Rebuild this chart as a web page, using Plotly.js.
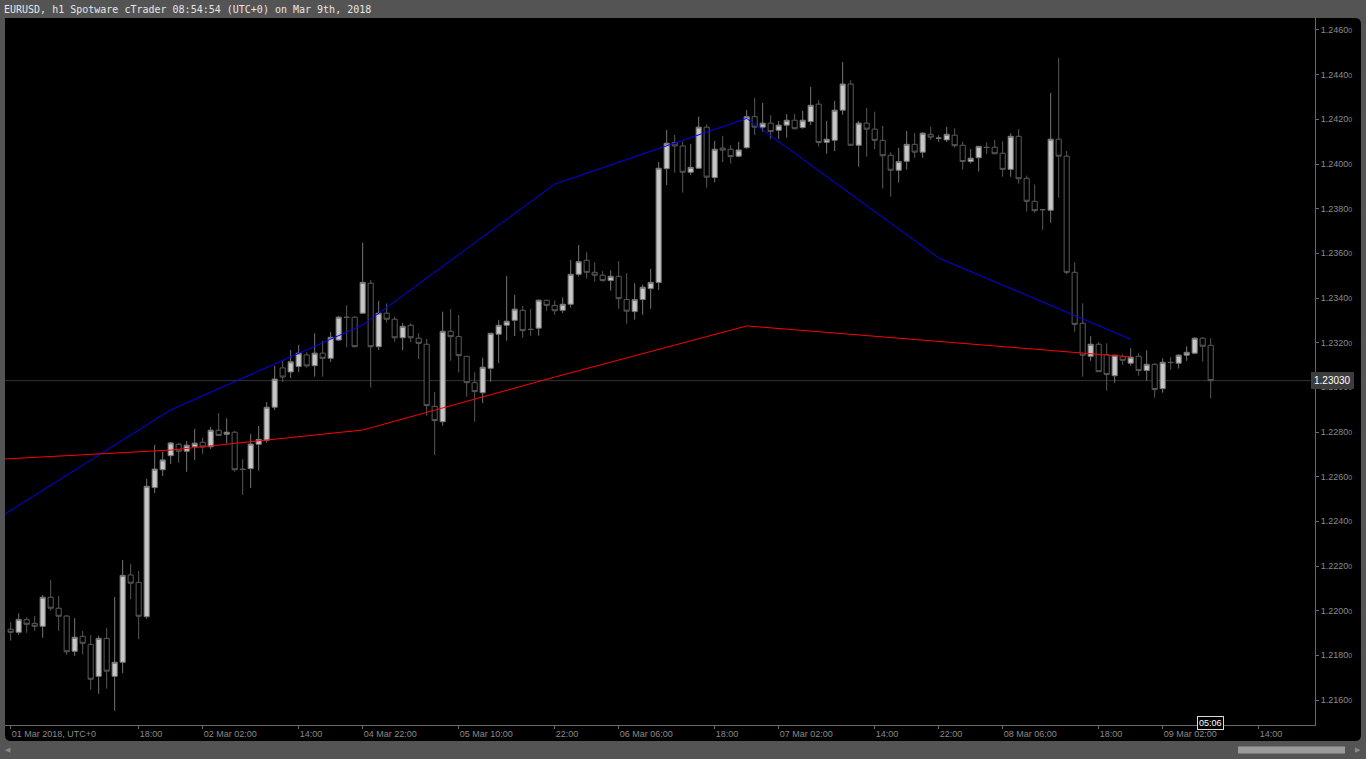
<!DOCTYPE html>
<html>
<head>
<meta charset="utf-8">
<script src="https://cdn.plot.ly/plotly-3.0.1.min.js"></script>
<style>html,body{margin:0;padding:0;background:#545454;}#chart{width:1366px;height:759px;}</style>
</head>
<body>
<div id="chart"></div>
<script>
// EURUSD h1 candles, 01 Mar 2018 02:00 .. 09 Mar 2018 08:00 (UTC+0), weekend removed
const open = [1.21917,1.21903,1.21960,1.21943,1.21930,1.22060,1.22011,1.21976,1.21818,1.21885,
1.21849,1.21706,1.21876,1.21706,1.21769,1.22160,1.22127,1.21973,1.22551,1.22631,
1.22694,1.22745,1.22714,1.22734,1.22754,1.22734,1.22808,1.22790,1.22799,1.22634,
1.22636,1.22745,1.22763,1.22911,1.23087,1.23069,1.23093,1.23145,1.23097,1.23153,
1.23130,1.23212,1.23314,1.23314,1.23332,1.23466,1.23182,1.23332,1.23305,1.23222,
1.23278,1.23220,1.23193,1.22915,1.22846,1.23251,1.23227,1.23139,1.23021,1.22976,
1.23085,1.23238,1.23278,1.23300,1.23345,1.23260,1.23265,1.23390,1.23367,1.23345,
1.23372,1.23506,1.23569,1.23515,1.23502,1.23478,1.23497,1.23393,1.23339,1.23393,
1.23442,1.23469,1.23979,1.24096,1.24081,1.23963,1.23981,1.24165,1.23939,1.24071,
1.24066,1.24035,1.24073,1.24212,1.24165,1.24183,1.24151,1.24174,1.24196,1.24163,
1.24190,1.24268,1.24097,1.24106,1.24241,1.24358,1.24084,1.24183,1.24156,1.24106,
1.24039,1.23972,1.24012,1.24088,1.24053,1.24133,1.24115,1.24108,1.24129,1.24084,
1.24011,1.24028,1.24075,1.24075,1.24048,1.23976,1.24124,1.23936,1.23833,1.23796,
1.23793,1.24111,1.24035,1.23515,1.23287,1.23139,1.23193,1.23146,1.23052,1.23137,
1.23108,1.23139,1.23075,1.23103,1.22994,1.23112,1.23108,1.23144,1.23153,1.23220,
1.23188];
const high = [1.21949,1.21988,1.21970,1.21976,1.22070,1.22137,1.22066,1.21981,1.21966,1.21909,
1.21890,1.21888,1.21922,1.22061,1.22227,1.22209,1.22178,1.22590,1.22742,1.22711,
1.22755,1.22751,1.22760,1.22814,1.22775,1.22823,1.22885,1.22861,1.22805,1.22678,
1.22791,1.22827,1.22934,1.23096,1.23123,1.23167,1.23190,1.23157,1.23242,1.23208,
1.23248,1.23320,1.23367,1.23318,1.23648,1.23481,1.23387,1.23376,1.23316,1.23288,
1.23287,1.23242,1.23217,1.22979,1.23339,1.23351,1.23324,1.23140,1.23067,1.23133,
1.23243,1.23302,1.23499,1.23414,1.23364,1.23351,1.23394,1.23391,1.23388,1.23403,
1.23570,1.23637,1.23605,1.23560,1.23520,1.23524,1.23565,1.23511,1.23466,1.23460,
1.23530,1.24009,1.24152,1.24130,1.24100,1.24090,1.24212,1.24178,1.24103,1.24126,
1.24084,1.24099,1.24241,1.24296,1.24273,1.24218,1.24193,1.24223,1.24224,1.24238,
1.24345,1.24286,1.24193,1.24282,1.24456,1.24375,1.24193,1.24251,1.24234,1.24170,
1.24053,1.24072,1.24148,1.24138,1.24142,1.24166,1.24129,1.24166,1.24160,1.24100,
1.24067,1.24081,1.24097,1.24108,1.24102,1.24138,1.24156,1.23948,1.23908,1.23799,
1.24318,1.24475,1.24058,1.23560,1.23376,1.23229,1.23202,1.23197,1.23145,1.23148,
1.23175,1.23153,1.23166,1.23108,1.23130,1.23135,1.23148,1.23184,1.23224,1.23224,
1.23220];
const low = [1.21866,1.21892,1.21901,1.21910,1.21879,1.22000,1.21910,1.21803,1.21798,1.21805,
1.21646,1.21628,1.21651,1.21552,1.21720,1.22051,1.21872,1.21964,1.22527,1.22603,
1.22657,1.22663,1.22622,1.22675,1.22702,1.22724,1.22782,1.22748,1.22622,1.22519,
1.22549,1.22627,1.22752,1.22899,1.23024,1.23042,1.23069,1.23088,1.23048,1.23048,
1.23114,1.23208,1.23179,1.23179,1.23329,1.23000,1.23167,1.23290,1.23204,1.23167,
1.23202,1.23127,1.22873,1.22697,1.22828,1.23119,1.23067,1.22958,1.22846,1.22930,
1.23025,1.23108,1.23209,1.23230,1.23222,1.23231,1.23231,1.23343,1.23325,1.23333,
1.23357,1.23496,1.23487,1.23473,1.23473,1.23433,1.23352,1.23285,1.23303,1.23325,
1.23352,1.23436,1.23906,1.23961,1.23872,1.23951,1.23978,1.23894,1.23918,1.24009,
1.24003,1.24030,1.24069,1.24130,1.24145,1.24112,1.24112,1.24118,1.24154,1.24158,
1.24174,1.24078,1.24046,1.24058,1.24220,1.24081,1.23988,1.24033,1.24066,1.23890,
1.23854,1.23917,1.23975,1.24028,1.24028,1.24108,1.24099,1.24099,1.24073,1.23975,
1.24003,1.23966,1.24044,1.24044,1.23943,1.23943,1.23912,1.23787,1.23782,1.23705,
1.23737,1.23849,1.23506,1.23249,1.23048,1.23119,1.23069,1.22985,1.23021,1.23101,
1.23097,1.23052,1.23030,1.22954,1.22976,1.23079,1.23084,1.23119,1.23148,1.23115,
1.22951];
const close = [1.21903,1.21961,1.21939,1.21930,1.22060,1.22011,1.21975,1.21816,1.21881,1.21854,
1.21693,1.21876,1.21729,1.21769,1.22158,1.22123,1.21975,1.22557,1.22634,1.22675,
1.22751,1.22714,1.22741,1.22750,1.22733,1.22808,1.22785,1.22799,1.22631,1.22632,
1.22746,1.22767,1.22911,1.23037,1.23046,1.23114,1.23153,1.23096,1.23153,1.23130,
1.23224,1.23314,1.23313,1.23182,1.23470,1.23182,1.23332,1.23305,1.23222,1.23273,
1.23222,1.23197,1.22918,1.22851,1.23251,1.23227,1.23142,1.23021,1.22981,1.23090,
1.23242,1.23278,1.23296,1.23350,1.23254,1.23259,1.23390,1.23367,1.23343,1.23372,
1.23506,1.23563,1.23515,1.23502,1.23478,1.23497,1.23397,1.23341,1.23393,1.23448,
1.23470,1.23981,1.24093,1.24081,1.23963,1.23985,1.24165,1.23941,1.24066,1.24062,
1.24033,1.24063,1.24212,1.24165,1.24183,1.24145,1.24174,1.24196,1.24158,1.24196,
1.24263,1.24096,1.24111,1.24241,1.24358,1.24084,1.24183,1.24156,1.24106,1.24037,
1.23972,1.24011,1.24088,1.24053,1.24138,1.24120,1.24116,1.24133,1.24082,1.24011,
1.24026,1.24079,1.24074,1.24046,1.23976,1.24124,1.23934,1.23833,1.23791,1.23795,
1.24111,1.24035,1.23515,1.23282,1.23144,1.23193,1.23070,1.23057,1.23144,1.23121,
1.23135,1.23075,1.23103,1.22990,1.23112,1.23111,1.23144,1.23157,1.23220,1.23184,
1.23030];

// daily moving-average points (bar index of each 22:00 day start)
const maIndex = [-4, 20, 44, 68, 92, 116, 140];
const maBlue  = [1.22359, 1.22899, 1.23279, 1.23910, 1.24204, 1.23579, 1.23215];
const maRed   = [1.22673, 1.22719, 1.22809, 1.23046, 1.23275, 1.23207, 1.23136];

const xTickIndex = [0, 16, 24, 36, 44, 56, 68, 76, 88, 96, 108, 116, 124, 136, 144, 156];
const xTickText = ["01 Mar 2018, UTC+0", "18:00", "02 Mar 02:00", "14:00", "04 Mar 22:00", "05 Mar 10:00",
  "22:00", "06 Mar 06:00", "18:00", "07 Mar 02:00", "14:00", "22:00", "08 Mar 06:00", "18:00",
  "09 Mar 02:00", "14:00"];
const yTickValues = [1.2160, 1.2180, 1.2200, 1.2220, 1.2240, 1.2260, 1.2280, 1.2300, 1.2320,
  1.2340, 1.2360, 1.2380, 1.2400, 1.2420, 1.2440, 1.2460];
const yTickText = yTickValues.map(v => v.toFixed(4) + "<span style='font-size:7px'>0</span>");

const currentPrice = 1.23030;
const currentLabel = "1.23030";
const countdown = "05:06";
const titleText = "EURUSD, h1 Spotware cTrader 08:54:54 (UTC+0) on Mar 9th, 2018";

const barIndex = open.map((_, i) => i);

// pixel geometry helpers (plot area: x 5..1315, y 18..725)
const W = 1310, H = 707;
const px = v => (v - 5) / W;
const py = v => (725 - v) / H;

const rx = 6 / W, ry = 6 / H;
const X0 = 0, X1 = px(1361), Y0 = py(741), Y1 = 1;
const panelPath = `M ${X0 + rx},${Y1} L ${X1 - rx},${Y1} Q ${X1},${Y1} ${X1},${Y1 - ry} L ${X1},${Y0 + ry} Q ${X1},${Y0} ${X1 - rx},${Y0} L ${X0 + rx},${Y0} Q ${X0},${Y0} ${X0},${Y0 + ry} L ${X0},${Y1 - ry} Q ${X0},${Y1} ${X0 + rx},${Y1} Z`;

const traces = [
  {
    type: 'candlestick', x: barIndex, open: open, high: high, low: low, close: close,
    increasing: { line: { color: '#767676', width: 1 }, fillcolor: '#c6c6c6' },
    decreasing: { line: { color: '#5a5a5a', width: 1 }, fillcolor: '#000000' },
    whiskerwidth: 0, hoverinfo: 'none', showlegend: false
  },
  {
    type: 'scatter', mode: 'lines', x: maIndex, y: maBlue,
    line: { color: '#0000ff', width: 1 }, hoverinfo: 'none', showlegend: false
  },
  {
    type: 'scatter', mode: 'lines', x: maIndex, y: maRed,
    line: { color: '#ff0000', width: 1 }, hoverinfo: 'none', showlegend: false
  }
];

const axisFont = { family: 'Liberation Sans, Arial, sans-serif', size: 9, color: '#8a8a8a' };

const layout = {
  width: 1366, height: 759,
  margin: { l: 5, r: 51, t: 18, b: 34, pad: 0 },
  paper_bgcolor: '#545454',
  plot_bgcolor: '#000000',
  showlegend: false,
  boxgap: 0.2, boxgroupgap: 0.2,
  title: {
    text: titleText, x: 4 / 1366, xref: 'container', xanchor: 'left',
    y: 1 - 9 / 759, yref: 'container', yanchor: 'middle',
    font: { family: 'DejaVu Sans Mono, monospace', size: 10, color: '#e6e6e6' }
  },
  xaxis: {
    type: 'linear', range: [-0.71, 163.04], fixedrange: true,
    rangeslider: { visible: false },
    showgrid: false, zeroline: false,
    showline: true, linecolor: '#6a6a6a', linewidth: 1,
    ticks: 'outside', ticklen: 3, tickcolor: '#6a6a6a', tickwidth: 1,
    tickmode: 'array', tickvals: xTickIndex, ticktext: xTickText,
    ticklabelposition: 'outside right',
    tickfont: axisFont
  },
  yaxis: {
    side: 'right', range: [1.214881, 1.246537], fixedrange: true,
    showgrid: false, zeroline: false,
    showline: true, linecolor: '#6a6a6a', linewidth: 1,
    ticks: 'outside', ticklen: 3, tickcolor: '#6a6a6a', tickwidth: 1,
    tickmode: 'array', tickvals: yTickValues, ticktext: yTickText,
    tickfont: axisFont
  },
  shapes: [
    { type: 'path', xref: 'paper', yref: 'paper', path: panelPath,
      fillcolor: '#000000', line: { width: 0 }, layer: 'below' },
    { type: 'line', xref: 'paper', yref: 'y', x0: 0, x1: 1, y0: currentPrice, y1: currentPrice,
      line: { color: '#333333', width: 1 }, layer: 'below' },
    { type: 'rect', xref: 'paper', yref: 'paper', x0: px(1238), x1: px(1345), y0: py(753.5), y1: py(746.5),
      fillcolor: '#9a9a9a', line: { width: 0 } }
  ],
  annotations: [
    { xref: 'paper', yref: 'y', x: px(1311), y: currentPrice, xanchor: 'left', yanchor: 'middle',
      text: currentLabel, showarrow: false, bgcolor: '#3c3c3c', bordercolor: '#3c3c3c', borderpad: 2,
      font: { family: 'Liberation Sans, Arial, sans-serif', size: 10, color: '#ffffff' } },
    { xref: 'x', yref: 'paper', x: 150, y: py(722.5), xanchor: 'center', yanchor: 'middle',
      text: countdown, showarrow: false, bgcolor: '#000000', bordercolor: '#d8d8d8', borderwidth: 1, borderpad: 1,
      font: { family: 'Liberation Sans, Arial, sans-serif', size: 9, color: '#ffffff' } },
    { xref: 'paper', yref: 'paper', x: px(8), y: py(750), xanchor: 'center', yanchor: 'middle',
      text: '◀', showarrow: false, font: { family: 'DejaVu Sans', size: 7, color: '#8a8a8a' } },
    { xref: 'paper', yref: 'paper', x: px(1358), y: py(750), xanchor: 'center', yanchor: 'middle',
      text: '▶', showarrow: false, font: { family: 'DejaVu Sans', size: 7, color: '#8a8a8a' } }
  ]
};

Plotly.newPlot('chart', traces, layout, { displayModeBar: false, staticPlot: true });
</script>
</body>
</html>
